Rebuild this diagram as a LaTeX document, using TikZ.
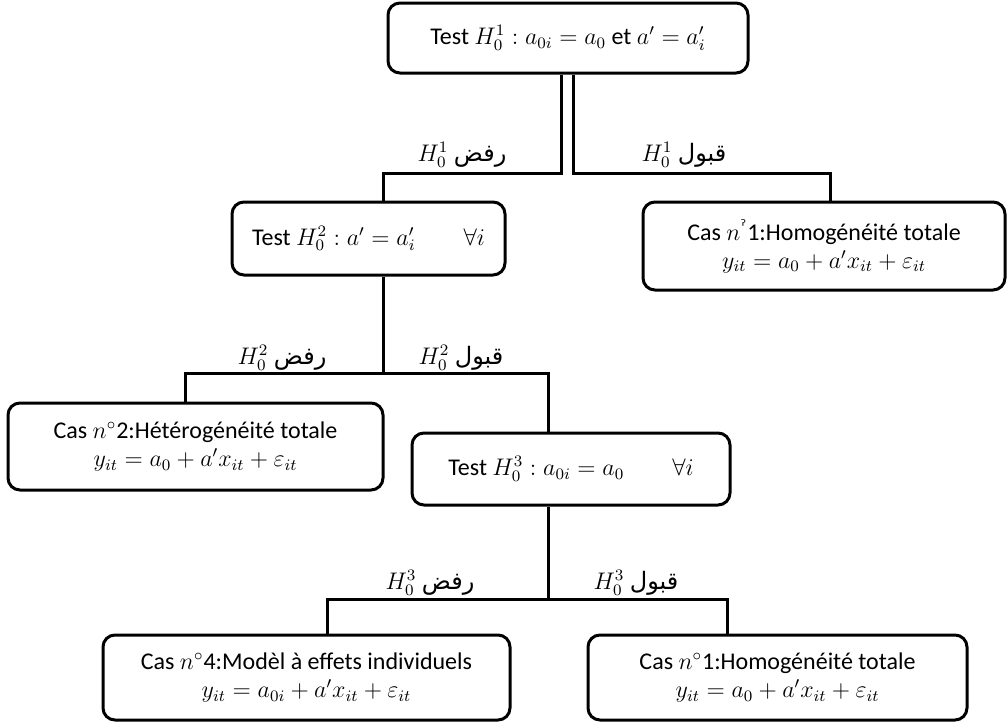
\documentclass[tikz,border=0pt]{standalone}
\usepackage{amsmath,amssymb}
\usepackage{fontspec}
\setmainfont{Carlito}
\newfontfamily\arabicfont[Script=Arabic]{DejaVu Sans}
\newfontfamily\dejavu{DejaVu Sans}
\TeXXeTstate=1
\usepackage{tikz}
\usetikzlibrary{positioning}

\newcommand{\rafd}{{\arabicfont\beginR رفض\endR}}
\newcommand{\qabul}{{\arabicfont\beginR قبول\endR}}

\begin{document}
\begin{tikzpicture}[x=0.5pt,y=-0.5pt,
	box/.style={rectangle, draw, rounded corners=6pt, line width=1.5pt, align=center, font=\fontsize{12}{14}\selectfont},
	lbl/.style={inner sep=0pt, font=\fontsize{12}{14}\selectfont},
	link/.style={line width=1.5pt}]
	\useasboundingbox (0,0) rectangle (1007,724);
	
	% Drawing the tests and the cases
	\node (test1) [box, minimum width=180pt, minimum height=35pt] at (568,38) {Test $H_0^1 : a_{0i} = a_0$ et $a' = a_i'$};
	\node (test2) [box, minimum width=136.5pt, minimum height=36.5pt] at (368.5,238.5) {Test $H_0^2 : a' = a_i' \qquad \forall i$};
	\node (homog) [box, minimum width=181pt, minimum height=44pt] at (824,246) {Cas $n$\textsuperscript{\dejavu ˀ}1:Homogénéité totale\\ $y_{it} = a_0 + a'x_{it} + \varepsilon_{it}$};
	\node (hetero) [box, minimum width=187.5pt, minimum height=43.5pt] at (195.5,446.5) {Cas $n^{\circ}$2:Hétérogénéité totale\\ $y_{it} = a_0 + a'x_{it} + \varepsilon_{it}$};
	\node (test3) [box, minimum width=159pt, minimum height=36pt] at (571,469) {Test $H_0^3 : a_{0i} = a_0 \qquad \forall i$};
	\node (indiv) [box, minimum width=203.5pt, minimum height=42.5pt] at (306.5,677.5) {Cas $n^{\circ}$4:Modèl à effets individuels\\ $y_{it} = a_{0i} + a'x_{it} + \varepsilon_{it}$};
	\node (homogb) [box, minimum width=189.5pt, minimum height=42.5pt] at (777.5,677.5) {Cas $n^{\circ}$1:Homogénéité totale\\ $y_{it} = a_0 + a'x_{it} + \varepsilon_{it}$};
	
	% Connecting the tests to the cases
	\draw[link] ([xshift=-3.5pt]test1.south) -- ++(0,99) -| ([xshift=7.25pt]test2.north);
	\draw[link] ([xshift=2.5pt]test1.south) -- ++(0,99) -| ([xshift=3pt]homog.north);
	\draw[link] ([xshift=7.25pt]test2.south) -- ++(0,97) coordinate (j2);
	\draw[link] ([xshift=-5.25pt]hetero.north) |- (j2) -| ([xshift=-11.5pt]test3.north);
	\draw[link] ([xshift=-11.5pt]test3.south) -- ++(0,93) coordinate (j3);
	\draw[link] ([xshift=10.25pt]indiv.north) |- (j3) -| ([xshift=-25.25pt]homogb.north);
	
	% Labels of the branches
	\node (rej1) [lbl] at (462,155) {$H_0^1$ \rafd};
	\node (acc1) [lbl] at (684,155) {$H_0^1$ \qabul};
	\node (rej2) [lbl] at (282,358) {$H_0^2$ \rafd};
	\node (acc2) [lbl] at (461,358) {$H_0^2$ \qabul};
	\node (rej3) [lbl] at (430,583) {$H_0^3$ \rafd};
	\node (acc3) [lbl] at (636,583) {$H_0^3$ \qabul};
\end{tikzpicture}
\end{document}
